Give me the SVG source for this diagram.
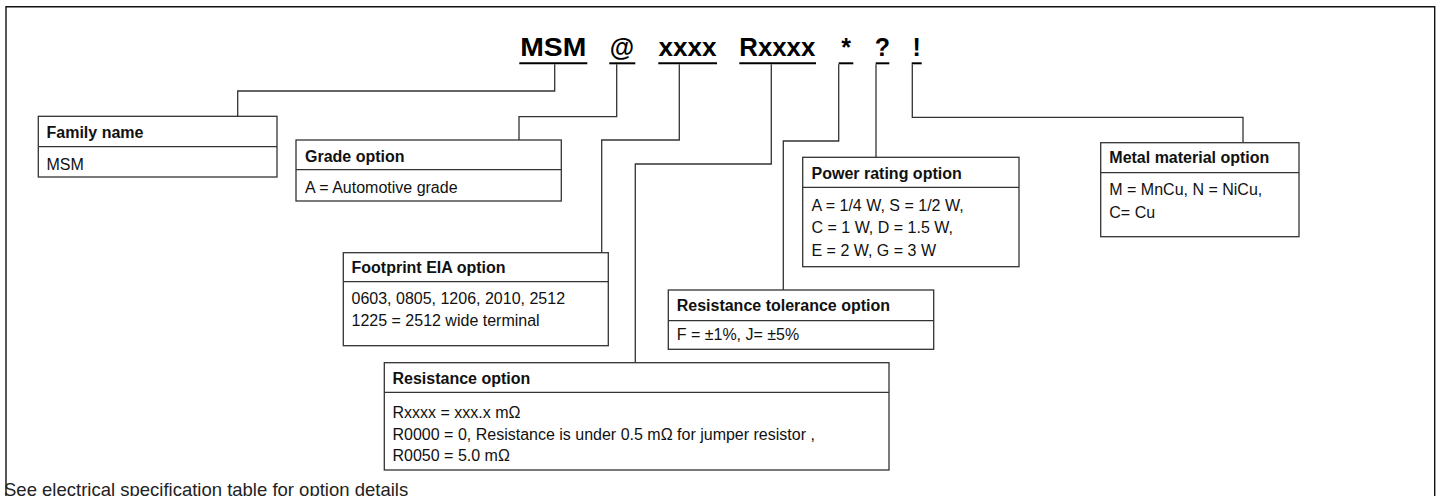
<svg xmlns="http://www.w3.org/2000/svg" width="1441" height="496" viewBox="0 0 1441 496">
<style>
.frame{fill:none;stroke:#111;stroke-width:1.4}
.box{fill:#fff;stroke:#333;stroke-width:1.3}
.div{stroke:#333;stroke-width:1.3}
.conn{fill:none;stroke:#333;stroke-width:1.3}
.ul{stroke:#000;stroke-width:2}
.t{font-family:"Liberation Sans",Arial,sans-serif;font-size:16px;font-weight:bold;fill:#111}
.b{font-family:"Liberation Sans",Arial,sans-serif;font-size:16px;fill:#111}
.code{font-family:"Liberation Sans",Arial,sans-serif;font-size:25px;font-weight:bold;fill:#000;text-anchor:middle}
.foot{font-family:"Liberation Sans",Arial,sans-serif;font-size:18.5px;fill:#222}
</style>
<rect width="1441" height="496" fill="#fff"/>
<path class="frame" d="M6,497 V6.7 H1434.7 V497"/>
<g id="code">
<text class="code" x="553.3" y="56" textLength="66" lengthAdjust="spacingAndGlyphs">MSM</text>
<text class="code" x="622" y="56">@</text>
<text class="code" x="687.6" y="56" textLength="58" lengthAdjust="spacingAndGlyphs">xxxx</text>
<text class="code" x="777.3" y="56" textLength="76" lengthAdjust="spacingAndGlyphs">Rxxxx</text>
<text class="code" x="846" y="56">*</text>
<text class="code" x="882.5" y="56">?</text>
<text class="code" x="916.7" y="56">!</text>
<line class="ul" x1="519.3" y1="63.3" x2="587.3" y2="63.3"/>
<line class="ul" x1="609.3" y1="63.3" x2="635.3" y2="63.3"/>
<line class="ul" x1="658.3" y1="63.3" x2="717" y2="63.3"/>
<line class="ul" x1="739.3" y1="63.3" x2="816" y2="63.3"/>
<line class="ul" x1="838.7" y1="63.3" x2="853.3" y2="63.3"/>
<line class="ul" x1="875.7" y1="63.3" x2="889.3" y2="63.3"/>
<line class="ul" x1="911.7" y1="63.3" x2="921.7" y2="63.3"/>
</g>
<g id="connectors">
<path class="conn" d="M554.7,64.3 V91 H237.7 V116.3"/>
<path class="conn" d="M616.7,64.3 V116.7 H519 V140"/>
<path class="conn" d="M679.3,64.3 V140 H601.7 V252.7"/>
<path class="conn" d="M771.3,64.3 V164 H635.3 V362.7"/>
<path class="conn" d="M838.7,64.3 V141 H783.3 V290"/>
<path class="conn" d="M876,64.3 V157.3"/>
<path class="conn" d="M912.3,64.3 V117.3 H1243 V142.7"/>
</g>
<g id="family">
<rect class="box" x="38.3" y="116.3" width="238.7" height="60.7"/>
<line class="div" x1="38.3" y1="146.7" x2="277" y2="146.7"/>
<text class="t" x="46.5" y="137.7">Family name</text>
<text class="b" x="46.5" y="170">MSM</text>
</g>
<g id="grade">
<rect class="box" x="296" y="140" width="265.3" height="61"/>
<line class="div" x1="296" y1="169.7" x2="561.3" y2="169.7"/>
<text class="t" x="305" y="161.8">Grade option</text>
<text class="b" x="305" y="193.3">A = Automotive grade</text>
</g>
<g id="footprint">
<rect class="box" x="343.3" y="252.7" width="265" height="93"/>
<line class="div" x1="343.3" y1="281.7" x2="608.3" y2="281.7"/>
<text class="t" x="351.5" y="273.3">Footprint EIA option</text>
<text class="b" x="351.5" y="304.3">0603, 0805, 1206, 2010, 2512</text>
<text class="b" x="351.5" y="326">1225 = 2512 wide terminal</text>
</g>
<g id="resistance">
<rect class="box" x="384.3" y="362.7" width="504.7" height="107.3"/>
<line class="div" x1="384.3" y1="392.3" x2="889" y2="392.3"/>
<text class="t" x="392.5" y="384.3">Resistance option</text>
<text class="b" x="392.5" y="417.7">Rxxxx = xxx.x mΩ</text>
<text class="b" x="392.5" y="439.5">R0000 = 0, Resistance is under 0.5 mΩ for jumper resistor ,</text>
<text class="b" x="392.5" y="461.2">R0050 = 5.0 mΩ</text>
</g>
<g id="tolerance">
<rect class="box" x="668.3" y="290" width="265.4" height="59.3"/>
<line class="div" x1="668.3" y1="320.7" x2="933.7" y2="320.7"/>
<text class="t" x="676.7" y="311">Resistance tolerance option</text>
<text class="b" x="676.7" y="340">F = ±1%, J= ±5%</text>
</g>
<g id="power">
<rect class="box" x="802.7" y="157.3" width="216.3" height="109.4"/>
<line class="div" x1="802.7" y1="187.3" x2="1019" y2="187.3"/>
<text class="t" x="811.5" y="179">Power rating option</text>
<text class="b" x="811.5" y="211">A = 1/4 W, S = 1/2 W,</text>
<text class="b" x="811.5" y="233.3">C = 1 W, D = 1.5 W,</text>
<text class="b" x="811.5" y="256">E = 2 W, G = 3 W</text>
</g>
<g id="metal">
<rect class="box" x="1100.7" y="142.7" width="198.3" height="94"/>
<line class="div" x1="1100.7" y1="172.7" x2="1299" y2="172.7"/>
<text class="t" x="1109.3" y="163.3">Metal material option</text>
<text class="b" x="1109.3" y="195">M = MnCu, N = NiCu,</text>
<text class="b" x="1109.3" y="217.7">C= Cu</text>
</g>
<text class="foot" x="4" y="495.5">See electrical specification table for option details</text>
</svg>
